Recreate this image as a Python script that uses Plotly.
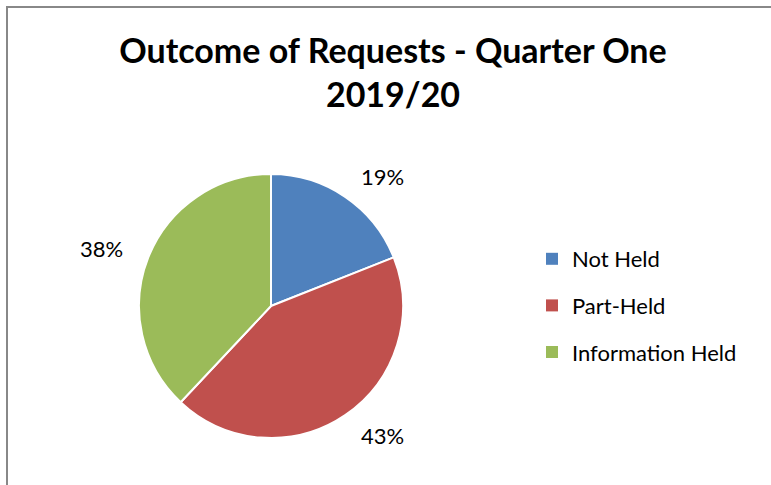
import math
import plotly.graph_objects as go

# ---- data ----
categories = ["Not Held", "Part-Held", "Information Held"]
percentages = [19, 43, 38]
colors = ["#4F81BD", "#C0504D", "#9BBB59"]
title_text = "Outcome of Requests - Quarter One<br>2019/20"

W, H = 771, 485
FONT = "Lato, 'Open Sans', sans-serif"

# pie geometry (pixels)
cx, cy, r = 271, 306, 132
dom_x = [(cx - r) / W, (cx + r) / W]
dom_y = [(H - cy - r) / H, (H - cy + r) / H]

fig = go.Figure()
fig.add_trace(go.Pie(
    labels=categories,
    values=percentages,
    marker=dict(colors=colors, line=dict(color="white", width=2)),
    sort=False,
    direction="clockwise",
    rotation=0,
    textinfo="none",
    hoverinfo="label+percent",
    showlegend=False,
    domain=dict(x=dom_x, y=dom_y),
))

# legend via dummy traces (for spacing control)
for i, (cat, col) in enumerate(zip(categories, colors)):
    fig.add_trace(go.Scatter(
        x=[None], y=[None], mode="markers", name=cat,
        marker=dict(symbol="square", size=12, color=col),
        legendgroup=f"g{i}", showlegend=True, hoverinfo="skip",
    ))

# percentage labels positioned around the pie from the data
total = sum(percentages)
cum = 0
annotations = []
R_LAB = 157
for v in percentages:
    mid = (cum + v / 2) / total * 2 * math.pi
    cum += v
    px = cx + R_LAB * math.sin(mid)
    py = cy - R_LAB * math.cos(mid)
    annotations.append(dict(
        x=px / W, y=(H - py) / H, xref="paper", yref="paper",
        text=f"{round(v / total * 100)}%", showarrow=False,
        xanchor="left" if math.sin(mid) >= 0 else "right", yanchor="middle",
        font=dict(family=FONT, size=22, color="#000000"),
    ))

fig.update_layout(
    width=W, height=H,
    margin=dict(l=0, r=0, t=0, b=0),
    paper_bgcolor="white", plot_bgcolor="white",
    title=dict(
        text=f"<b>{title_text}</b>",
        x=393 / W, xanchor="center",
        y=1 - 63 / H, yanchor="top",
        font=dict(family=FONT, size=34, color="#000000"),
    ),
    xaxis=dict(visible=False), yaxis=dict(visible=False),
    legend=dict(
        x=532 / W, xanchor="left",
        y=(H - 238) / H, yanchor="top",
        font=dict(family=FONT, size=22, color="#000000"),
        tracegroupgap=15,
        bgcolor="rgba(0,0,0,0)",
    ),
    annotations=annotations,
    shapes=[dict(
        type="rect", xref="paper", yref="paper",
        x0=7 / W, y0=-0.2, x1=1.2, y1=1 - 7 / H,
        line=dict(color="#888888", width=2),
    )],
)

fig.write_html(
    "out.html",
    config={"displayModeBar": False},
    post_script="document.body.style.margin='0';document.body.style.padding='0';",
)
